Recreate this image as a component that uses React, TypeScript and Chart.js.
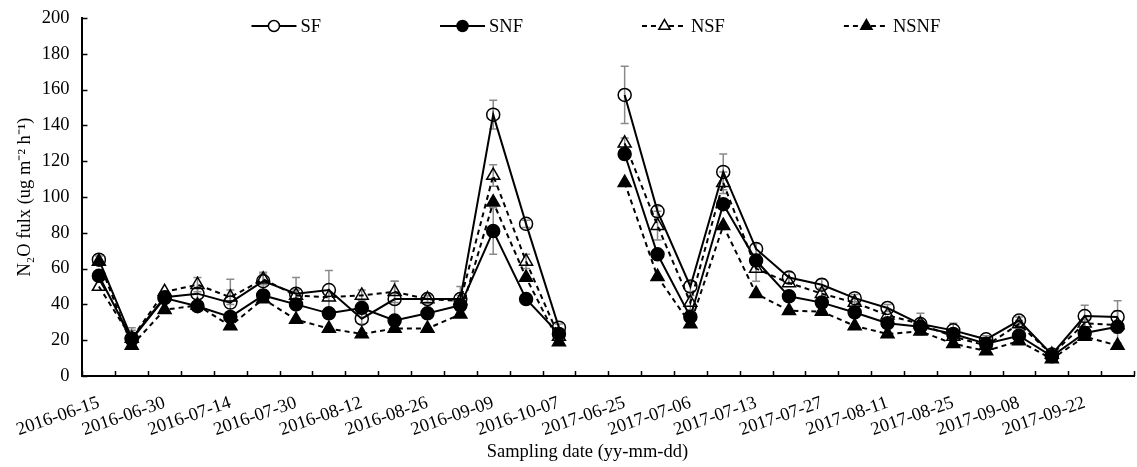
import React, { useEffect, useRef } from "react";
import { Chart, registerables } from "chart.js";

Chart.register(...registerables);

// ---- data ----
const dates: string[] = [
  "2016-06-15", "", "2016-06-30", "", "2016-07-14", "", "2016-07-30", "",
  "2016-08-12", "", "2016-08-26", "", "2016-09-09", "", "2016-10-07", "",
  "2017-06-25", "", "2017-07-06", "", "2017-07-13", "", "2017-07-27", "",
  "2017-08-11", "", "2017-08-25", "", "2017-09-08", "", "2017-09-22", "",
];

const sf: (number | null)[] = [65, 21, 44, 46, 41, 53, 46, 48, 32, 43, 43, 43, 146, 85, 27, null, 157, 92, 50, 114, 71, 55, 51, 43.5, 38, 29, 25.5, 20.5, 31, 12, 33.5, 33];
const snf: (number | null)[] = [56, 20.5, 43.5, 39, 33, 45, 40, 35, 38, 31, 35, 39.5, 81, 43, 23.5, null, 124, 68, 33, 96, 64.5, 44.5, 41, 35.5, 29.5, 27.5, 23.5, 18, 22.5, 11, 24, 27.5];
const nsf: (number | null)[] = [50, 21, 47, 51, 44, 54, 45, 44, 45, 47, 43, 42, 112, 64, 22, null, 130, 84, 41, 108, 60, 52, 46, 41, 34, 29, 22, 17, 29, 12, 29.5, 28.5];
const nsnf: (number | null)[] = [64, 17, 37, 39.5, 28, 43, 31.5, 26.5, 23.5, 26.5, 26.5, 34.5, 97, 55, 19, null, 108, 55.5, 29, 84, 46, 36.5, 36, 28, 23.5, 25, 18, 14, 19.5, 9.5, 22, 17];

const sfErr: (number | null)[] = [2, 6, 3, 3, 13, 5, 9, 11, 3, 10, 2, 7, 8, 2, 2, null, 16, 3, 3, 10, 3, 3, 3, 2, 2, 6, 4, 2, 2, 2, 6, 9];
const snfErr: (number | null)[] = [null, 5, null, null, null, null, null, null, null, null, null, null, 13, null, null, null, 3, null, null, null, null, null, null, null, null, null, null, null, null, null, 3, 9];
const nsfErr: (number | null)[] = [null, null, null, 4, 4, 3, 3, null, 3, 6, 2, 3, 6, 4, null, null, 3, 8, 4, 6, 7, null, 3, 2, null, 2, null, null, 2, null, 2, null];
const nsnfErr: (number | null)[] = [null, null, null, null, null, null, null, null, null, null, null, null, null, null, null, null, null, null, null, null, null, null, null, null, null, null, null, null, null, null, null, null];

const seriesNames = ["SF", "SNF", "NSF", "NSNF"];
const yMin = 0;
const yMax = 200;
const yStep = 20;

const FONT = '"Liberation Serif", "Times New Roman", serif';
const FS = 18.5;

const errorsBySeries = [sfErr, snfErr, nsfErr, nsnfErr];

const errorBarPlugin = {
  id: "errorBars",
  beforeDatasetsDraw(chart: any) {
    const ctx = chart.ctx;
    const ys = chart.scales.y;
    ctx.save();
    ctx.strokeStyle = "#8a8a8a";
    ctx.lineWidth = 1.5;
    chart.data.datasets.forEach((ds: any, di: number) => {
      const errs = errorsBySeries[di];
      if (!errs) return;
      const meta = chart.getDatasetMeta(di);
      meta.data.forEach((pt: any, i: number) => {
        const e = errs[i];
        const v = ds.data[i];
        if (e == null || v == null) return;
        const x = pt.x;
        const yt = ys.getPixelForValue(v + e);
        const yb = ys.getPixelForValue(v - e);
        ctx.beginPath();
        ctx.moveTo(x, yt);
        ctx.lineTo(x, yb);
        ctx.moveTo(x - 4, yt);
        ctx.lineTo(x + 4, yt);
        ctx.moveTo(x - 4, yb);
        ctx.lineTo(x + 4, yb);
        ctx.stroke();
      });
    });
    ctx.restore();
  },
};

const insideTicksPlugin = {
  id: "insideTicks",
  afterDraw(chart: any) {
    const ctx = chart.ctx;
    const { left, bottom } = chart.chartArea;
    const xs = chart.scales.x;
    const ys = chart.scales.y;
    ctx.save();
    ctx.strokeStyle = "#000";
    ctx.lineWidth = 1.5;
    ctx.beginPath();
    ys.ticks.forEach((t: any) => {
      const py = Math.round(ys.getPixelForValue(t.value)) + 0.5;
      ctx.moveTo(left, py);
      ctx.lineTo(left + 5, py);
    });
    for (let i = 0; i <= dates.length; i++) {
      const px = Math.round(xs.getPixelForValue(i - 0.5)) + 0.5;
      ctx.moveTo(px, bottom);
      ctx.lineTo(px, bottom - 5);
    }
    ctx.stroke();
    ctx.restore();
  },
};

function drawMarker(ctx: CanvasRenderingContext2D, style: string, x: number, y: number, r: number, filled: boolean) {
  ctx.beginPath();
  if (style === "circle") {
    ctx.arc(x, y, r, 0, Math.PI * 2);
  } else {
    for (let k = 0; k < 3; k++) {
      const a = (k * 2 * Math.PI) / 3;
      const px = x + Math.sin(a) * r;
      const py = y - Math.cos(a) * r;
      if (k === 0) ctx.moveTo(px, py);
      else ctx.lineTo(px, py);
    }
    ctx.closePath();
  }
  ctx.fillStyle = filled ? "#000" : "#fff";
  ctx.fill();
  ctx.lineWidth = 1.5;
  ctx.strokeStyle = "#000";
  ctx.stroke();
}

const legendPlugin = {
  id: "inlineLegend",
  afterDraw(chart: any) {
    const ctx = chart.ctx;
    ctx.save();
    ctx.font = FS + "px " + FONT;
    ctx.textBaseline = "middle";
    ctx.textAlign = "left";
    let x = chart.chartArea.left + 169;
    const y = chart.chartArea.top + 8;
    chart.data.datasets.forEach((ds: any) => {
      const lineLen = 45;
      ctx.strokeStyle = "#000";
      ctx.lineWidth = 2;
      ctx.setLineDash(ds.borderDash || []);
      ctx.beginPath();
      ctx.moveTo(x, y);
      ctx.lineTo(x + lineLen, y);
      ctx.stroke();
      ctx.setLineDash([]);
      const filled = ds.pointBackgroundColor === "#000";
      drawMarker(ctx, ds.pointStyle, x + lineLen / 2, y, ds.pointStyle === "circle" ? 5.5 : 6.5, filled);
      ctx.fillStyle = "#000";
      ctx.fillText(ds.label, x + lineLen + 4, y + 1);
      const tw = ctx.measureText(ds.label).width;
      x += lineLen + 5 + tw + 118;
    });
    ctx.restore();
  },
};

export default function App() {
  const ref = useRef<HTMLCanvasElement | null>(null);

  useEffect(() => {
    document.body.style.margin = "0";
    if (!ref.current) return;
    const mk = (label: string, data: (number | null)[], style: string, filled: boolean, dashed: boolean) => ({
      label,
      data,
      borderColor: "#000",
      borderWidth: 2,
      borderDash: dashed ? [5, 4] : [],
      pointStyle: style,
      pointRadius: style === "circle" ? 6.5 : 7.5,
      pointBorderWidth: 1.5,
      pointBorderColor: "#000",
      pointBackgroundColor: filled ? "#000" : "rgba(0,0,0,0)",
      backgroundColor: filled ? "#000" : "rgba(0,0,0,0)",
      fill: false,
      tension: 0,
      spanGaps: false,
    });
    const chart = new Chart(ref.current, {
      type: "line",
      data: {
        labels: dates,
        datasets: [
          mk(seriesNames[0], sf, "circle", false, false),
          mk(seriesNames[1], snf, "circle", true, false),
          mk(seriesNames[2], nsf, "triangle", false, true),
          mk(seriesNames[3], nsnf, "triangle", true, true),
        ],
      },
      options: {
        animation: false,
        responsive: false,
        maintainAspectRatio: false,
        layout: { padding: { top: 18, left: 0, right: 0, bottom: 0 } },
        plugins: {
          legend: { display: false },
          tooltip: { enabled: false },
        },
        scales: {
          x: {
            type: "category",
            offset: true,
            grid: { display: false, drawTicks: false },
            border: { display: true, color: "#000", width: 2 },
            ticks: {
              autoSkip: false,
              minRotation: 19,
              maxRotation: 19,
              padding: 16,
              color: "#000",
              font: { family: FONT, size: FS },
            },
            title: {
              display: true,
              text: "Sampling date (yy-mm-dd)\u00A0\u00A0\u00A0\u00A0\u00A0\u00A0\u00A0\u00A0\u00A0",
              color: "#000",
              font: { family: FONT, size: FS },
              padding: { top: 4, bottom: 4 },
            },
            afterFit: (s: any) => {
              s.height = 91;
            },
          },
          y: {
            min: yMin,
            max: yMax,
            grid: { display: false, drawTicks: false },
            border: { display: true, color: "#000", width: 2 },
            ticks: {
              stepSize: yStep,
              padding: 13,
              color: "#000",
              font: { family: FONT, size: FS },
            },
            title: {
              display: true,
              text: "N\u2082O fulx (ug m\u207B\u00B2 h\u207B\u00B9)",
              color: "#000",
              font: { family: FONT, size: FS },
              padding: { top: 13, bottom: 0 },
            },
            afterFit: (s: any) => {
              s.width = 81;
              s.paddingTop = 0;
              s.paddingBottom = 0;
            },
          },
        },
      } as any,
      plugins: [errorBarPlugin, insideTicksPlugin, legendPlugin],
    });
    return () => chart.destroy();
  }, []);

  return (
    <div style={{ width: 1137, height: 467, overflow: "hidden", position: "relative" }}>
      <canvas ref={ref} width={1143} height={467} style={{ display: "block", width: 1143, height: 467 }} />
    </div>
  );
}
